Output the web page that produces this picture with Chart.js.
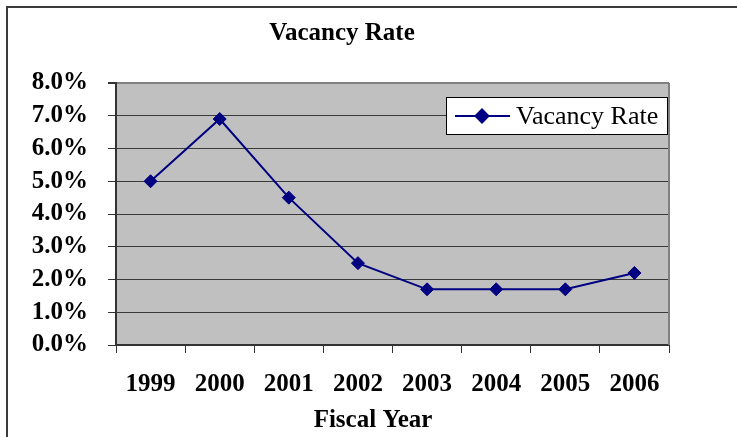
<!DOCTYPE html>
<html>
<head>
<meta charset="utf-8">
<script src="https://cdn.jsdelivr.net/npm/chart.js@4/dist/chart.umd.min.js"></script>
<style>
  html, body { margin: 0; padding: 0; background: #ffffff; overflow: hidden; }
  #frame { position: absolute; left: 6px; top: 6px; width: 760px; height: 460px;
           border-left: 2px solid #3a3a3a; border-top: 2px solid #3a3a3a; }
  #wrap { position: absolute; left: 0; top: 0; width: 737px; height: 437px; }
</style>
</head>
<body>
<div id="frame"></div>
<div id="wrap"><canvas id="c" width="737" height="437"></canvas></div>
<script>
const chartTitle = 'Vacancy Rate';
const xAxisTitle = 'Fiscal Year';
const seriesName = 'Vacancy Rate';
const years = ['1999', '2000', '2001', '2002', '2003', '2004', '2005', '2006'];
const vacancyRate = [5.0, 6.9, 4.5, 2.5, 1.7, 1.7, 1.7, 2.2];
const yMin = 0, yMax = 8, yStep = 1;

const SERIF = "'Liberation Serif', 'Times New Roman', serif";
const NAVY = '#000080';

const decor = {
  id: 'decor',
  beforeDraw(chart) {
    const {ctx, chartArea: a} = chart;
    ctx.save();
    ctx.fillStyle = '#c0c0c0';
    ctx.fillRect(a.left, a.top, a.right - a.left, a.bottom - a.top);
    ctx.restore();
  },
  beforeDatasetsDraw(chart) {
    const {ctx, chartArea: a} = chart;
    ctx.save();
    ctx.strokeStyle = '#808080';
    ctx.lineWidth = 2;
    ctx.beginPath();
    ctx.moveTo(a.right, a.top);
    ctx.lineTo(a.right, a.bottom);
    ctx.stroke();
    ctx.restore();
  },
  afterDraw(chart) {
    const {ctx} = chart;
    ctx.save();
    ctx.fillStyle = '#000';
    ctx.textAlign = 'center';
    ctx.textBaseline = 'alphabetic';
    ctx.font = 'bold 25px ' + SERIF;
    ctx.fillText(chartTitle, 342, 40);
    ctx.fillText(xAxisTitle, 373, 427);
    // legend
    const lx = 446, ly = 97, lw = 221, lh = 37;
    ctx.fillStyle = '#ffffff';
    ctx.fillRect(lx, ly, lw, lh);
    ctx.strokeStyle = '#000';
    ctx.lineWidth = 1;
    ctx.strokeRect(lx + 0.5, ly + 0.5, lw, lh);
    const ds = chart.data.datasets[0];
    const cy = ly + lh / 2 + 0.5;
    ctx.strokeStyle = ds.borderColor;
    ctx.lineWidth = 2;
    ctx.beginPath();
    ctx.moveTo(455, cy);
    ctx.lineTo(510, cy);
    ctx.stroke();
    Chart.helpers.drawPoint(ctx, {pointStyle: 'rectRot', radius: 6.5, borderWidth: 1}, 482, cy);
    ctx.fillStyle = NAVY;
    ctx.fill();
    ctx.fillStyle = '#000';
    ctx.textAlign = 'left';
    ctx.textBaseline = 'middle';
    ctx.font = '26px ' + SERIF;
    ctx.fillText(ds.label, 516, cy + 1);
    ctx.restore();
  }
};

new Chart(document.getElementById('c'), {
  type: 'line',
  data: {
    labels: years,
    datasets: [{
      label: seriesName,
      data: vacancyRate,
      borderColor: NAVY,
      backgroundColor: NAVY,
      borderWidth: 2,
      pointStyle: 'rectRot',
      pointRadius: 6.5,
      pointBorderWidth: 1,
      pointBorderColor: NAVY,
      pointBackgroundColor: NAVY,
      tension: 0,
      fill: false
    }]
  },
  options: {
    responsive: false,
    animation: false,
    devicePixelRatio: 1,
    layout: { padding: { left: 0, right: 68, top: 83, bottom: 0 } },
    plugins: {
      legend: { display: false },
      title: { display: false },
      tooltip: { enabled: false }
    },
    scales: {
      x: {
        type: 'category',
        offset: true,
        grid: {
          offset: true,
          drawOnChartArea: false,
          drawTicks: true,
          tickLength: 8,
          tickColor: '#333333',
          tickWidth: 1
        },
        border: { display: true, color: '#333333', width: 2 },
        ticks: {
          color: '#000',
          font: { family: SERIF, size: 25, weight: 'bold' },
          padding: 17,
          maxRotation: 0,
          autoSkip: false
        },
        afterFit(scale) { scale.height = 92; }
      },
      y: {
        min: yMin,
        max: yMax,
        grid: {
          color: (c) => (c.tick && c.tick.value === yMax) ? '#808080' : '#3a3a3a',
          lineWidth: (c) => (c.tick && c.tick.value === yMax) ? 2 : 1,
          drawTicks: true,
          tickLength: 8,
          tickColor: '#333333'
        },
        border: { display: true, color: '#333333', width: 2 },
        ticks: {
          stepSize: yStep,
          autoSkip: false,
          color: '#000',
          font: { family: SERIF, size: 25, weight: 'bold', lineHeight: 1.0 },
          padding: 20,
          callback: (v) => v.toFixed(1) + '%'
        },
        afterFit(scale) { scale.width = 116; }
      }
    }
  },
  plugins: [decor]
});
</script>
</body>
</html>
